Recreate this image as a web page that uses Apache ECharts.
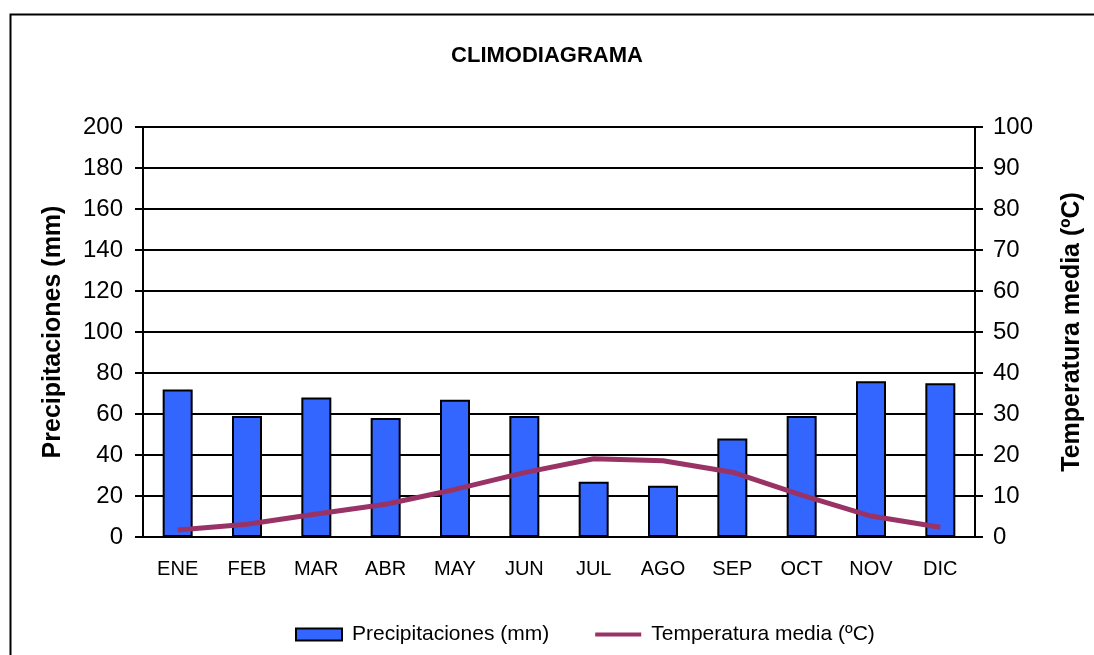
<!DOCTYPE html>
<html>
<head>
<meta charset="utf-8">
<script src="https://cdn.jsdelivr.net/npm/echarts@6/dist/echarts.min.js"></script>
<style>
  html, body { margin: 0; padding: 0; background: #fff; }
  #chart { width: 1094px; height: 655px; }
</style>
</head>
<body>
<div id="chart"></div>
<script>
  // datos del climodiagrama
  const meses = ['ENE', 'FEB', 'MAR', 'ABR', 'MAY', 'JUN', 'JUL', 'AGO', 'SEP', 'OCT', 'NOV', 'DIC'];
  const precipitaciones = [72, 59, 68, 58, 67, 59, 27, 25, 48, 59, 76, 75];
  const temperatura = [1.7, 3.1, 5.6, 8.0, 11.6, 15.7, 19.1, 18.6, 15.8, 10.2, 5.1, 2.4];

  const font = '"Liberation Sans", Arial, sans-serif';
  let myChart = echarts.init(document.getElementById('chart'));

  myChart.setOption({
    animation: false,
    title: {
      text: 'CLIMODIAGRAMA',
      left: 'center',
      top: 40,
      textStyle: { fontFamily: font, fontSize: 22, fontWeight: 'bold', color: '#000' }
    },
    graphic: [{
      // marco exterior
      type: 'rect',
      left: 8,
      top: 12,
      shape: { width: 1200, height: 700 },
      style: { fill: 'none', stroke: '#000', lineWidth: 2 },
      silent: true
    }],
    legend: {
      bottom: 5,
      left: 290,
      itemWidth: 46,
      itemHeight: 12,
      itemGap: 46,
      textStyle: { fontFamily: font, fontSize: 21, color: '#000', padding: [0, 0, 0, 5] },
      data: [
        { name: 'Precipitaciones (mm)', icon: 'rect' },
        { name: 'Temperatura media (ºC)', icon: 'path://M0,0H47V4H0Z' }
      ]
    },
    grid: { left: 143, right: 119, top: 127, bottom: 118 },
    xAxis: {
      type: 'category',
      data: meses,
      axisLine: { lineStyle: { color: '#000', width: 2 } },
      axisTick: { length: 7, lineStyle: { color: '#000', width: 2 } },
      axisLabel: { color: '#000', fontFamily: font, fontSize: 20, margin: 22 }
    },
    yAxis: [
      {
        type: 'value',
        name: 'Precipitaciones (mm)',
        nameLocation: 'middle',
        nameGap: 77,
        nameTextStyle: { fontFamily: font, fontSize: 25, fontWeight: 'bold', color: '#000' },
        min: 0,
        max: 200,
        interval: 20,
        axisLine: { show: true, lineStyle: { color: '#000', width: 2 } },
        axisTick: { show: true, length: 8, lineStyle: { color: '#000', width: 2 } },
        axisLabel: { color: '#000', fontFamily: font, fontSize: 24, margin: 20 },
        splitLine: { lineStyle: { color: '#000', width: 2 } }
      },
      {
        type: 'value',
        name: 'Temperatura media (ºC)',
        nameLocation: 'middle',
        nameGap: 85,
        nameRotate: 90,
        nameTextStyle: { fontFamily: font, fontSize: 25, fontWeight: 'bold', color: '#000' },
        min: 0,
        max: 100,
        interval: 10,
        axisLine: { show: true, lineStyle: { color: '#000', width: 2 } },
        axisTick: { show: true, length: 8, lineStyle: { color: '#000', width: 2 } },
        axisLabel: { color: '#000', fontFamily: font, fontSize: 24, margin: 18 },
        splitLine: { show: false }
      }
    ],
    series: [
      {
        name: 'Precipitaciones (mm)',
        type: 'bar',
        data: precipitaciones,
        barWidth: 30,
        itemStyle: { color: '#3366FF', borderColor: '#000', borderWidth: 2 }
      },
      {
        name: 'Temperatura media (ºC)',
        type: 'line',
        yAxisIndex: 1,
        data: temperatura,
        symbol: 'none',
        lineStyle: { color: '#993366', width: 5 },
        itemStyle: { color: '#993366' }
      }
    ]
  });
</script>
</body>
</html>
